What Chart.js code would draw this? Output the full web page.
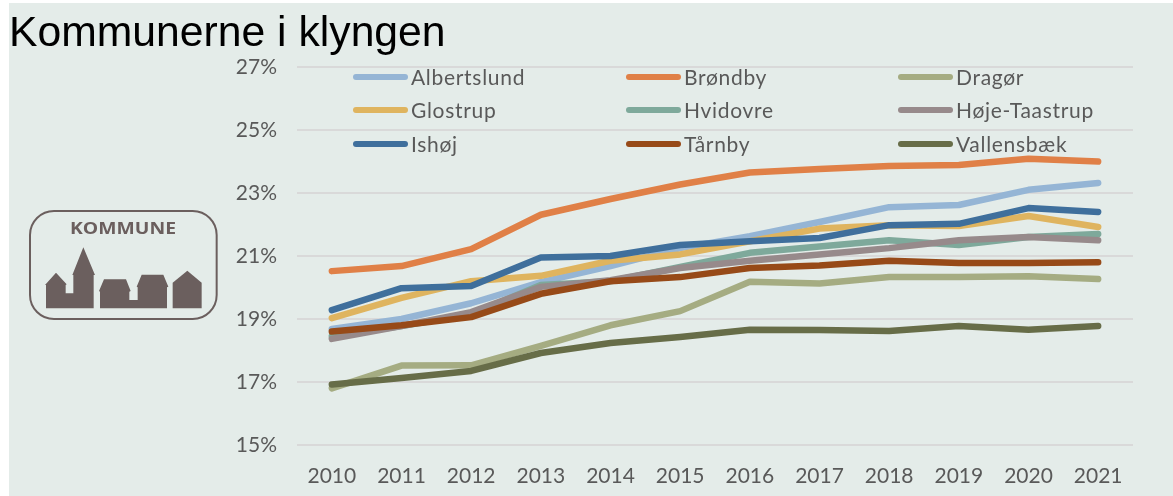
<!DOCTYPE html>
<html>
<head>
<meta charset="utf-8">
<title>Kommunerne i klyngen</title>
<script src="https://cdn.jsdelivr.net/npm/chart.js@4"></script>
<style>
html, body { margin: 0; padding: 0; background: #fff; }
#wrap { position: absolute; left: 9px; top: 3px; width: 1164px; height: 493px; background: #e4ece9; overflow: hidden; }
#title { position: absolute; left: 0; top: 4px; font: 42.7px/49px "Liberation Sans", Arial, sans-serif; color: #000; white-space: nowrap; }
#box { position: absolute; left: 0; top: 0; width: 1164px; height: 493px; }
#logo { position: absolute; left: 20px; top: 207px; }
</style>
</head>
<body>
<div id="wrap">
  <div id="box"><canvas id="chart" width="1164" height="493"></canvas></div>
  <div id="title">Kommunerne i klyngen</div>
  <svg id="logo" width="190" height="112" viewBox="87 60 570 336">
    <rect x="90" y="63" width="560" height="324" rx="72" fill="none" stroke="#6b5f5e" stroke-width="6"/>
    <text x="210" y="133" textLength="318" lengthAdjust="spacingAndGlyphs" font-family="'Open Sans'" font-weight="700" font-size="49" fill="#6b5f5e">KOMMUNE</text>
    <path fill="#6b5f5e" d="M138 355V285h-3l33-37 32 35-3 2v25h23V255h-3l33-83 35 83h-4v100z"/>
    <path fill="#6b5f5e" d="M300 355V305l-3-2 15-35h66l14 35-4 2v25h25V292l-3-2 15-36h65l15 36-4 2v63z"/>
    <path fill="#6b5f5e" d="M518 355V278l44-36 43 36v77z"/>
  </svg>
</div>
<script>
const years = ['2010', '2011', '2012', '2013', '2014', '2015', '2016', '2017', '2018', '2019', '2020', '2021'];
const yTicks = [15, 17, 19, 21, 23, 25, 27];

const albertslund = [18.68, 19.0, 19.5, 20.17, 20.68, 21.25, 21.63, 22.08, 22.55, 22.62, 23.1, 23.32];
const broendby = [20.52, 20.68, 21.22, 22.31, 22.81, 23.27, 23.65, 23.76, 23.86, 23.89, 24.09, 24.0];
const dragoer = [16.8, 17.52, 17.53, 18.15, 18.8, 19.25, 20.18, 20.13, 20.33, 20.33, 20.36, 20.27];
const glostrup = [19.03, 19.67, 20.2, 20.37, 20.85, 21.05, 21.47, 21.87, 21.98, 21.95, 22.27, 21.92];
const hvidovre = [18.45, 18.78, 19.15, 20.08, 20.2, 20.65, 21.1, 21.3, 21.5, 21.35, 21.6, 21.7];
const hoejeTaastrup = [18.37, 18.78, 19.22, 20.02, 20.23, 20.62, 20.85, 21.05, 21.25, 21.5, 21.6, 21.5];
const ishoej = [19.28, 19.98, 20.05, 20.95, 21.0, 21.35, 21.47, 21.57, 21.98, 22.02, 22.52, 22.4];
const taarnby = [18.6, 18.8, 19.06, 19.8, 20.2, 20.33, 20.62, 20.7, 20.85, 20.78, 20.78, 20.8];
const vallensbaek = [16.92, 17.13, 17.35, 17.92, 18.24, 18.43, 18.66, 18.65, 18.62, 18.78, 18.66, 18.78];

const seriesNames = ['Albertslund', 'Brøndby', 'Dragør', 'Glostrup', 'Hvidovre', 'Høje-Taastrup', 'Ishøj', 'Tårnby', 'Vallensbæk'];
const seriesValues = [albertslund, broendby, dragoer, glostrup, hvidovre, hoejeTaastrup, ishoej, taarnby, vallensbaek];
const seriesColors = ['#95b5d5', '#e08047', '#a5ac82', '#dfb45f', '#7ea99b', '#978a8b', '#3f6f9c', '#974a18', '#676d48'];

const textColor = '#595959';
const lineWidth = 6.5;

// the 3x3 legend sits inside the plot, Chart.js can't lay that out itself
const gridLegend = {
    id: 'gridLegend',
    afterDatasetsDraw(chart) {
        const ctx = chart.ctx;
        const colX = [344, 617, 889];
        const rowY = [74, 107, 141];
        ctx.save();
        ctx.font = '21px Lato';
        ctx.letterSpacing = '0.7px';
        ctx.textBaseline = 'middle';
        seriesNames.forEach((name, i) => {
            const x = colX[i % 3];
            const y = rowY[Math.floor(i / 3)];
            ctx.strokeStyle = seriesColors[i];
            ctx.lineWidth = 6;
            ctx.lineCap = 'round';
            ctx.beginPath();
            ctx.moveTo(x + 3, y);
            ctx.lineTo(x + 52, y);
            ctx.stroke();
            ctx.fillStyle = textColor;
            ctx.fillText(name, x + 58, y + 1);
        });
        ctx.restore();
    }
};

new Chart(document.getElementById('chart'), {
    type: 'line',
    data: {
        labels: years,
        datasets: seriesNames.map((name, i) => ({
            label: name,
            data: seriesValues[i],
            borderColor: seriesColors[i],
            backgroundColor: seriesColors[i],
            borderWidth: lineWidth,
            borderCapStyle: 'round',
            borderJoinStyle: 'round',
            pointRadius: 0,
            tension: 0,
            fill: false,
            order: seriesNames.length - i
        }))
    },
    options: {
        responsive: false,
        animation: false,
        layout: { padding: { left: 0, right: 40, top: 64, bottom: 0 } },
        plugins: {
            legend: { display: false },
            title: { display: false },
            tooltip: { enabled: false }
        },
        scales: {
            x: {
                offset: true,
                afterFit(axis) { axis.height = 51; },
                grid: { display: false },
                border: { display: false },
                ticks: { color: textColor, font: { family: 'Lato', size: 21 }, maxRotation: 0, padding: 11 }
            },
            y: {
                min: 15,
                max: 27,
                afterBuildTicks(axis) { axis.ticks = yTicks.map(v => ({ value: v })); },
                afterFit(axis) { axis.width = 288; },
                grid: { color: '#d9d9d9', lineWidth: 2, drawTicks: false },
                border: { display: false },
                ticks: { color: textColor, font: { family: 'Lato', size: 21 }, padding: 20, callback: v => v + '%' }
            }
        }
    },
    plugins: [gridLegend]
});
</script>
</body>
</html>
